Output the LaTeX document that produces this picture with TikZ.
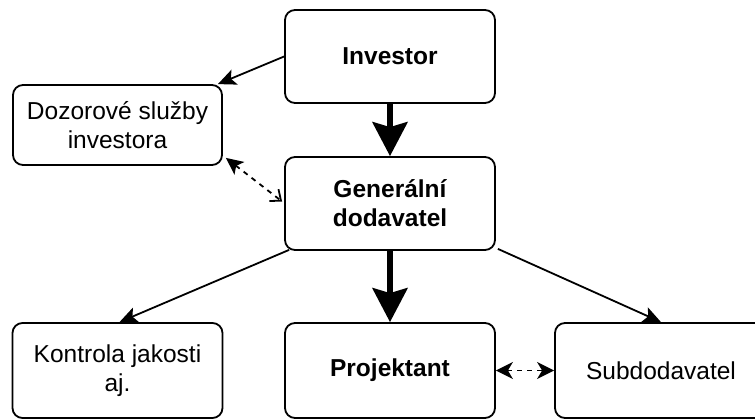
\documentclass[tikz,border=0pt]{standalone}
\usepackage{fontspec}
\setmainfont{Liberation Sans}
\usetikzlibrary{arrows.meta,calc}

\begin{document}
\begin{tikzpicture}[x=1pt,y=-1pt,
  box/.style={draw, line width=1.8pt, rounded corners=10pt, align=center,
    font=\fontsize{24.5}{29}\selectfont, inner sep=0pt},
  bigbox/.style={box, minimum width=210pt, minimum height=93pt},
  lowbox/.style={box, minimum width=210pt, minimum height=95pt},
  head/.style={Stealth[length=18pt, width=16pt, inset=4pt]},
  thin/.style={line width=1.8pt, -{Stealth[length=18pt, width=16pt, inset=4pt]}},
  thick/.style={line width=5.5pt, -{Stealth[length=34pt, width=35pt, inset=5pt]}},
  dashlink/.style={line width=1.8pt, dash pattern=on 5pt off 5pt}
]
\useasboundingbox (0,0) rectangle (755,419);

\node[bigbox, font=\fontsize{24.5}{29}\selectfont\bfseries] (inv) at (390,56.5) {Investor};
\node[box, minimum width=209pt, minimum height=80pt] (doz) at (117.5,125) {Dozorové služby\\investora};
\node[bigbox, font=\fontsize{24.5}{29}\selectfont\bfseries] (gen) at (390,203.5) {Generální\\dodavatel};
\node[lowbox] (kon) at (117.5,370.5) {Kontrola jakosti\\aj.};
\node[lowbox, font=\fontsize{24.5}{29}\selectfont\bfseries] (proj) at (390,370.5) {Projektant};
\node[lowbox, minimum width=212pt] (sub) at (661,370.5) {Subdodavatel};

% hierarchy
\draw[thin] (inv.west) -- ($(doz.north east)+(-5,0)$);
\draw[thick] (inv.south) -- (gen.north);
\draw[thin] ($(gen.south west)+(5,-1)$) -- ($(kon.north)+(2,0)$);
\draw[thick] (gen.south) -- (proj.north);
\draw[thin] ($(gen.south east)+(2,-2)$) -- (sub.north);

% cooperation links
\draw[dashlink, {Stealth[length=17pt, width=16pt, inset=4pt]}-{Straight Barb[length=9pt, width=15pt]}]
  ($(doz.south east)+(3,-8)$) -- ($(gen.west)+(-2,-2)$);
\draw[dashlink, {Stealth[length=17pt, width=17pt, inset=5pt]}-{Stealth[length=17pt, width=17pt, inset=5pt]}]
  (proj.east) -- (sub.west);
\end{tikzpicture}
\end{document}
